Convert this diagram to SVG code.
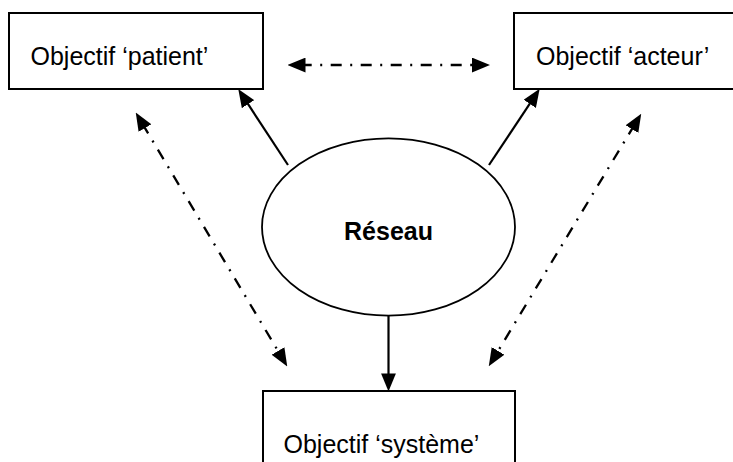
<svg xmlns="http://www.w3.org/2000/svg" width="733" height="462" viewBox="0 0 733 462">
  <defs>
    <style>
      .box { fill: #fff; stroke: #000; stroke-width: 2; }
      .ell { fill: #fff; stroke: #000; stroke-width: 1.8; }
      .lbl { font-family: "Liberation Sans", Arial, sans-serif; font-size: 25px; fill: #000; }
      .bold { font-weight: bold; }
      .solid { fill: none; stroke: #000; stroke-width: 2.2; marker-end: url(#head); }
      .dd { fill: none; stroke: #000; stroke-width: 2.3; stroke-dasharray: 11 8.5 2 8.5; stroke-dashoffset: 4.3; marker-start: url(#head); marker-end: url(#head); }
    </style>
    <marker id="head" markerUnits="userSpaceOnUse" markerWidth="18" markerHeight="15" viewBox="0 0 17 14" refX="0.5" refY="7" orient="auto-start-reverse">
      <path d="M0,0 L17,7 L0,14 z" fill="#000"/>
    </marker>
  </defs>
  <rect width="733" height="462" fill="#fff"/>

  <g id="patient">
    <rect class="box" x="9" y="13" width="254" height="76"/>
    <text class="lbl" x="30.5" y="65">Objectif ‘patient’</text>
  </g>
  <g id="acteur">
    <rect class="box" x="514" y="13" width="240" height="76"/>
    <text class="lbl" x="536" y="65">Objectif ‘acteur’</text>
  </g>
  <g id="systeme">
    <rect class="box" x="263" y="391" width="252" height="90"/>
    <text class="lbl" x="283.5" y="453">Objectif ‘système’</text>
  </g>
  <g id="reseau">
    <ellipse class="ell" cx="388.5" cy="227" rx="126.5" ry="88.7"/>
    <text class="lbl bold" x="388.5" y="240" text-anchor="middle">Réseau</text>
  </g>

  <g id="connectors">
    <line class="solid" x1="288" y1="165" x2="247.8" y2="103.7"/>
    <line class="solid" x1="489" y1="165" x2="530" y2="103.4"/>
    <line class="solid" x1="388.5" y1="316" x2="388.5" y2="374"/>
    <line class="dd" x1="305" y1="65" x2="472.5" y2="65"/>
    <line class="dd" x1="144.7" y1="127.6" x2="278.3" y2="351.4"/>
    <line class="dd" x1="632.2" y1="128.6" x2="497.8" y2="351.4"/>
  </g>
</svg>
